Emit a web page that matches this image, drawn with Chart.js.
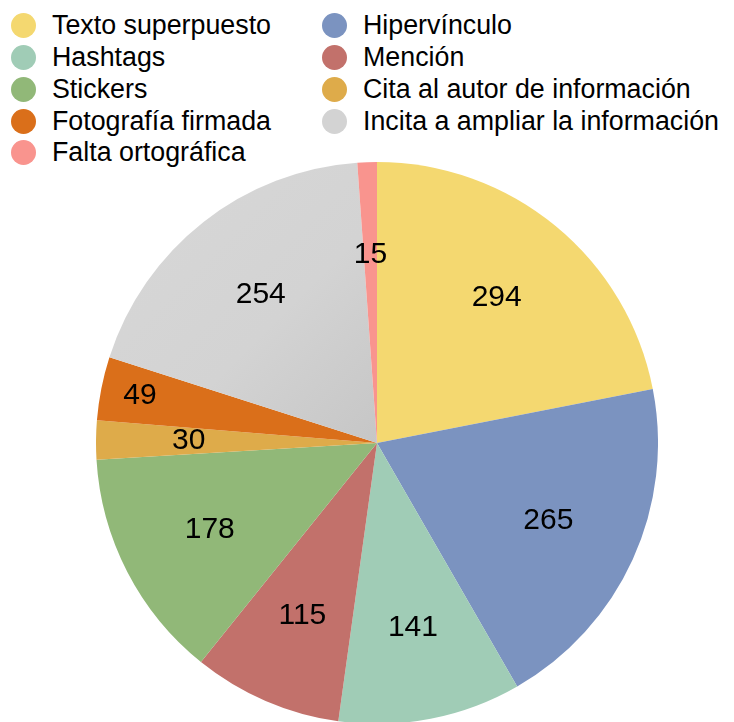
<!DOCTYPE html>
<html>
<head>
<meta charset="utf-8">
<script src="https://cdn.jsdelivr.net/npm/chart.js@4/dist/chart.umd.min.js"></script>
<style>
  html, body { margin: 0; padding: 0; background: #fff; }
  body { width: 734px; height: 722px; position: relative; overflow: hidden;
         font-family: "Liberation Sans", Arial, Helvetica, sans-serif; }
  #legend { position: absolute; left: 11px; top: 10px; width: 720px;
            display: grid; grid-template-columns: 311px 400px; grid-auto-rows: 31.75px; }
  .item { display: flex; align-items: center; font-size: 26.8px; color: #000; white-space: nowrap; }
  .dot { width: 25px; height: 25px; border-radius: 50%; margin-right: 16px; flex: none; }
  #wrap { position: absolute; left: 96px; top: 162px; width: 562px; height: 562px; }
</style>
</head>
<body>
<div id="legend"></div>
<div id="wrap"><canvas id="c"></canvas></div>
<script>
const categories = [
  "Texto superpuesto", "Hipervínculo", "Hashtags", "Mención", "Stickers",
  "Cita al autor de información", "Fotografía firmada",
  "Incita a ampliar la información", "Falta ortográfica"
];
const values = [294, 265, 141, 115, 178, 30, 49, 254, 15];
const colors = ["#F4D870", "#7B93C0", "#A0CCB6", "#C2716B", "#91B878",
                "#DEAB4A", "#DA6F1A", "#D3D3D3", "#F9948E"];

// HTML legend built from the arrays
const legend = document.getElementById('legend');
categories.forEach((name, i) => {
  const it = document.createElement('div');
  it.className = 'item';
  const d = document.createElement('span');
  d.className = 'dot';
  d.style.background = colors[i];
  it.appendChild(d);
  it.appendChild(document.createTextNode(name));
  legend.appendChild(it);
});

const labelRadius = { default: 0.67, 6: 0.86 };

const valueLabels = {
  id: 'valueLabels',
  afterDatasetsDraw(chart) {
    const ctx = chart.ctx;
    const meta = chart.getDatasetMeta(0);
    ctx.save();
    ctx.font = '30px "Liberation Sans", Arial, sans-serif';
    ctx.fillStyle = '#000';
    ctx.textAlign = 'center';
    ctx.textBaseline = 'middle';
    meta.data.forEach((arc, i) => {
      const p = arc.getProps(['x', 'y', 'startAngle', 'endAngle', 'outerRadius'], true);
      const mid = (p.startAngle + p.endAngle) / 2;
      const f = labelRadius[i] !== undefined ? labelRadius[i] : labelRadius.default;
      const r = p.outerRadius * f;
      ctx.fillText(String(chart.data.datasets[0].data[i]),
                   p.x + Math.cos(mid) * r, p.y + Math.sin(mid) * r);
    });
    ctx.restore();
  }
};

// subtle shading for the grey slice, as in the reference
function sliceFill(c) {
  const i = c.dataIndex;
  if (i !== 7) return colors[i];
  const chart = c.chart;
  const area = chart.chartArea;
  if (!area) return colors[i];
  const cx = (area.left + area.right) / 2, cy = (area.top + area.bottom) / 2;
  const R = Math.min(area.width, area.height) / 2;
  const g = chart.ctx.createLinearGradient(cx - R, cy - R, cx, cy);
  g.addColorStop(0, '#D8D8D8');
  g.addColorStop(0.6, '#D3D3D3');
  g.addColorStop(1, '#C6C6C6');
  return g;
}

new Chart(document.getElementById('c'), {
  type: 'pie',
  data: {
    labels: categories,
    datasets: [{
      data: values,
      backgroundColor: sliceFill,
      borderWidth: 0,
      hoverOffset: 0,
      offset: 0
    }]
  },
  options: {
    responsive: true,
    maintainAspectRatio: false,
    animation: false,
    layout: { padding: 0 },
    plugins: { legend: { display: false }, tooltip: { enabled: false } }
  },
  plugins: [valueLabels]
});
</script>
</body>
</html>
